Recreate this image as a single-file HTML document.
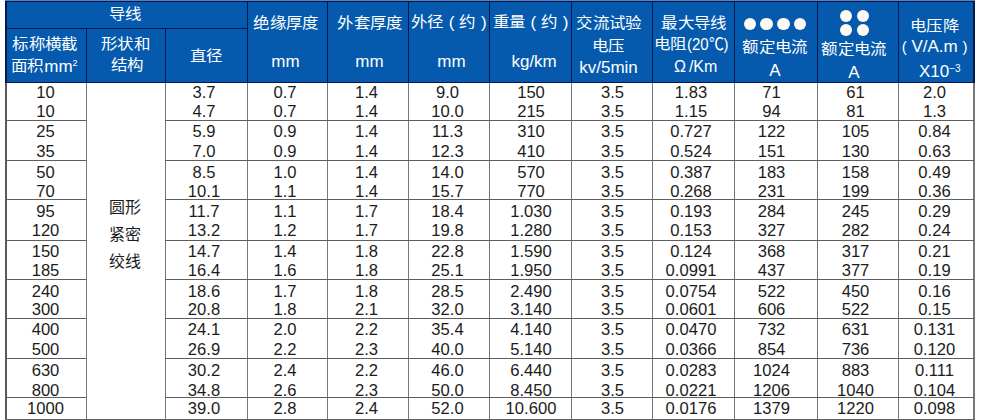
<!DOCTYPE html><html lang="zh-CN"><head><meta charset="utf-8"><style>
html,body{margin:0;padding:0;width:983px;height:420px;overflow:hidden;background:#fff;}
body{position:relative;font-family:"Liberation Sans",sans-serif;}
.a{position:absolute;}
.h{position:absolute;color:#fff;font-size:17px;line-height:20px;height:20px;width:160px;text-align:center;white-space:nowrap;}
.t{position:absolute;color:#1c1c1c;font-size:16.6px;line-height:20px;height:20px;text-align:center;white-space:nowrap;}
.c{display:inline-block;font-weight:400;transform:scale(0.97,0.88);}
.v{position:absolute;width:1px;background:#777;}
.g{position:absolute;height:1px;background:#5e5e5e;}
.nv{position:absolute;width:1px;background:#06184a;}
.dot{position:absolute;width:12.6px;height:12.6px;border-radius:50%;background:#fffaf4;}
</style></head><body>
<div class="a" style="left:5px;top:0;width:970px;height:1px;background:#5583c0"></div>
<div class="a" style="left:5px;top:1px;width:970px;height:82px;background:#055aad"></div>
<div class="a" style="left:5px;top:1px;width:970px;height:1px;background:#06184a"></div>
<div class="a" style="left:5px;top:82px;width:970px;height:1px;background:#06184a"></div>
<div class="a" style="left:6px;top:28px;width:241px;height:1px;background:#06184a"></div>
<div class="a" style="left:5px;top:1px;width:2px;height:82px;background:#06184a"></div>
<div class="a" style="left:973px;top:1px;width:2px;height:82px;background:#06184a"></div>
<div class="nv" style="left:86px;top:29px;height:53px"></div>
<div class="nv" style="left:165px;top:29px;height:53px"></div>
<div class="nv" style="left:247px;top:1px;height:81px"></div>
<div class="nv" style="left:327px;top:1px;height:81px"></div>
<div class="nv" style="left:408px;top:1px;height:81px"></div>
<div class="nv" style="left:489px;top:1px;height:81px"></div>
<div class="nv" style="left:571px;top:1px;height:81px"></div>
<div class="nv" style="left:652px;top:1px;height:81px"></div>
<div class="nv" style="left:734px;top:1px;height:81px"></div>
<div class="nv" style="left:817px;top:1px;height:81px"></div>
<div class="nv" style="left:898px;top:1px;height:81px"></div>
<div class="a" style="left:5px;top:83px;width:2px;height:337px;background:#5a5a5a"></div>
<div class="a" style="left:973px;top:83px;width:2px;height:337px;background:#787878"></div>
<div class="a" style="left:5px;top:419px;width:970px;height:1px;background:#606060"></div>
<div class="v" style="left:86px;top:83px;height:336px"></div>
<div class="v" style="left:165px;top:83px;height:336px"></div>
<div class="v" style="left:247px;top:83px;height:336px"></div>
<div class="v" style="left:327px;top:83px;height:336px"></div>
<div class="v" style="left:408px;top:83px;height:336px"></div>
<div class="v" style="left:489px;top:83px;height:336px"></div>
<div class="v" style="left:571px;top:83px;height:336px"></div>
<div class="v" style="left:652px;top:83px;height:336px"></div>
<div class="v" style="left:734px;top:83px;height:336px"></div>
<div class="v" style="left:817px;top:83px;height:336px"></div>
<div class="v" style="left:898px;top:83px;height:336px"></div>
<div class="g" style="left:6px;top:120px;width:80px"></div>
<div class="g" style="left:165px;top:120px;width:809px"></div>
<div class="g" style="left:6px;top:160px;width:80px"></div>
<div class="g" style="left:165px;top:160px;width:809px"></div>
<div class="g" style="left:6px;top:199px;width:80px"></div>
<div class="g" style="left:165px;top:199px;width:809px"></div>
<div class="g" style="left:6px;top:240px;width:80px"></div>
<div class="g" style="left:165px;top:240px;width:809px"></div>
<div class="g" style="left:6px;top:279px;width:80px"></div>
<div class="g" style="left:165px;top:279px;width:809px"></div>
<div class="g" style="left:6px;top:318px;width:80px"></div>
<div class="g" style="left:165px;top:318px;width:809px"></div>
<div class="g" style="left:6px;top:358px;width:80px"></div>
<div class="g" style="left:165px;top:358px;width:809px"></div>
<div class="g" style="left:6px;top:397px;width:80px"></div>
<div class="g" style="left:165px;top:397px;width:809px"></div>
<div class="h" id="h0" style="left:44.90px;top:5.40px"><span class="c">导线</span></div>
<div class="h" id="h1" style="left:-34.70px;top:35.10px"><span class="c">标称横截</span></div>
<div class="h" id="h2" style="left:-36.10px;top:56.80px"><span class="c">面积</span>mm<span style="font-size:9px;position:relative;top:-6px">2</span></div>
<div class="h" id="h3" style="left:45.95px;top:35.10px"><span class="c">形状和</span></div>
<div class="h" id="h4" style="left:46.60px;top:56.40px"><span class="c">结构</span></div>
<div class="h" id="h5" style="left:125.95px;top:46.80px"><span class="c">直径</span></div>
<div class="h" id="h6" style="left:205.75px;top:14.00px"><span class="c">绝缘厚度</span></div>
<div class="h" id="h7" style="left:205.45px;top:52.20px">mm</div>
<div class="h" id="h8" style="left:289.65px;top:13.80px"><span class="c">外套厚度</span></div>
<div class="h" id="h9" style="left:289.45px;top:52.00px">mm</div>
<div class="h" id="h10" style="left:368.30px;top:12.80px"><span class="c">外径</span> ( <span class="c">约</span> )</div>
<div class="h" id="h11" style="left:371.50px;top:52.00px">mm</div>
<div class="h" id="h12" style="left:450.15px;top:13.05px"><span class="c">重量</span> ( <span class="c">约</span> )</div>
<div class="h" id="h13" style="left:454.10px;top:52.35px">kg/km</div>
<div class="h" id="h14" style="left:529.45px;top:14.00px"><span class="c">交流试验</span></div>
<div class="h" id="h15" style="left:528.20px;top:37.00px"><span class="c">电压</span></div>
<div class="h" id="h16" style="left:528.55px;top:58.40px">kv/5min</div>
<div class="h" id="h17" style="left:614.00px;top:14.00px"><span class="c">最大导线</span></div>
<div class="h" id="h18" style="left:610.70px;top:35.40px"><span class="c">电阻</span><span style="display:inline-block;transform:scaleX(0.88);transform-origin:0 50%;margin-right:-6px">(20℃)</span></div>
<div class="h" id="h19" style="left:615.65px;top:57.40px"><span style="font-size:16px"><span style="margin-right:3px">Ω</span>/Km</span></div>
<div class="h" id="h20" style="left:694.85px;top:38.40px"><span class="c">额定电流</span></div>
<div class="h" id="h21" style="left:694.80px;top:60.80px">A</div>
<div class="h" id="h22" style="left:773.55px;top:40.00px"><span class="c">额定电流</span></div>
<div class="h" id="h23" style="left:773.95px;top:62.90px">A</div>
<div class="h" id="h24" style="left:854.55px;top:16.90px"><span class="c">电压降</span></div>
<div class="h" id="h25" style="left:854.55px;top:37.00px"><span style="font-size:15px">(</span> V/A.m <span style="font-size:15px">)</span></div>
<div class="h" id="h26" style="left:859.80px;top:61.60px">X10<span style="font-size:10px;position:relative;top:-5px">−3</span></div>
<div class="dot" style="left:743.6px;top:17.6px"></div>
<div class="dot" style="left:760.3px;top:17.6px"></div>
<div class="dot" style="left:777.0px;top:17.6px"></div>
<div class="dot" style="left:793.7px;top:17.6px"></div>
<div class="dot" style="left:839.7px;top:9.8px"></div>
<div class="dot" style="left:839.7px;top:23.7px"></div>
<div class="dot" style="left:856.5px;top:9.8px"></div>
<div class="dot" style="left:856.5px;top:23.7px"></div>
<div class="a" style="left:85px;width:79px;top:194px;color:#1c1c1c;font-size:16px;line-height:27px;text-align:center">圆形<br>紧密<br>绞线</div>
<div class="t" style="left:5px;width:81px;top:83.38px">10</div>
<div class="t" style="left:163px;width:82px;top:83.38px">3.7</div>
<div class="t" style="left:245px;width:80px;top:83.38px">0.7</div>
<div class="t" style="left:326px;width:81px;top:83.38px">1.4</div>
<div class="t" style="left:407px;width:81px;top:83.38px">9.0</div>
<div class="t" style="left:490px;width:82px;top:83.38px">150</div>
<div class="t" style="left:572px;width:81px;top:83.38px">3.5</div>
<div class="t" style="left:650px;width:82px;top:83.38px">1.83</div>
<div class="t" style="left:730px;width:83px;top:83.38px">71</div>
<div class="t" style="left:815px;width:81px;top:83.38px">61</div>
<div class="t" style="left:897px;width:75px;top:83.38px">2.0</div>
<div class="t" style="left:5px;width:81px;top:101.98px">10</div>
<div class="t" style="left:163px;width:82px;top:101.98px">4.7</div>
<div class="t" style="left:245px;width:80px;top:101.98px">0.7</div>
<div class="t" style="left:326px;width:81px;top:101.98px">1.4</div>
<div class="t" style="left:407px;width:81px;top:101.98px">10.0</div>
<div class="t" style="left:490px;width:82px;top:101.98px">215</div>
<div class="t" style="left:572px;width:81px;top:101.98px">3.5</div>
<div class="t" style="left:650px;width:82px;top:101.98px">1.15</div>
<div class="t" style="left:730px;width:83px;top:101.98px">94</div>
<div class="t" style="left:815px;width:81px;top:101.98px">81</div>
<div class="t" style="left:897px;width:75px;top:101.98px">1.3</div>
<div class="t" style="left:5px;width:81px;top:122.08px">25</div>
<div class="t" style="left:163px;width:82px;top:122.08px">5.9</div>
<div class="t" style="left:245px;width:80px;top:122.08px">0.9</div>
<div class="t" style="left:326px;width:81px;top:122.08px">1.4</div>
<div class="t" style="left:407px;width:81px;top:122.08px">11.3</div>
<div class="t" style="left:490px;width:82px;top:122.08px">310</div>
<div class="t" style="left:572px;width:81px;top:122.08px">3.5</div>
<div class="t" style="left:650px;width:82px;top:122.08px">0.727</div>
<div class="t" style="left:730px;width:83px;top:122.08px">122</div>
<div class="t" style="left:815px;width:81px;top:122.08px">105</div>
<div class="t" style="left:897px;width:75px;top:122.08px">0.84</div>
<div class="t" style="left:5px;width:81px;top:142.38px">35</div>
<div class="t" style="left:163px;width:82px;top:142.38px">7.0</div>
<div class="t" style="left:245px;width:80px;top:142.38px">0.9</div>
<div class="t" style="left:326px;width:81px;top:142.38px">1.4</div>
<div class="t" style="left:407px;width:81px;top:142.38px">12.3</div>
<div class="t" style="left:490px;width:82px;top:142.38px">410</div>
<div class="t" style="left:572px;width:81px;top:142.38px">3.5</div>
<div class="t" style="left:650px;width:82px;top:142.38px">0.524</div>
<div class="t" style="left:730px;width:83px;top:142.38px">151</div>
<div class="t" style="left:815px;width:81px;top:142.38px">130</div>
<div class="t" style="left:897px;width:75px;top:142.38px">0.63</div>
<div class="t" style="left:5px;width:81px;top:162.68px">50</div>
<div class="t" style="left:163px;width:82px;top:162.68px">8.5</div>
<div class="t" style="left:245px;width:80px;top:162.68px">1.0</div>
<div class="t" style="left:326px;width:81px;top:162.68px">1.4</div>
<div class="t" style="left:407px;width:81px;top:162.68px">14.0</div>
<div class="t" style="left:490px;width:82px;top:162.68px">570</div>
<div class="t" style="left:572px;width:81px;top:162.68px">3.5</div>
<div class="t" style="left:650px;width:82px;top:162.68px">0.387</div>
<div class="t" style="left:730px;width:83px;top:162.68px">183</div>
<div class="t" style="left:815px;width:81px;top:162.68px">158</div>
<div class="t" style="left:897px;width:75px;top:162.68px">0.49</div>
<div class="t" style="left:5px;width:81px;top:182.48px">70</div>
<div class="t" style="left:163px;width:82px;top:182.48px">10.1</div>
<div class="t" style="left:245px;width:80px;top:182.48px">1.1</div>
<div class="t" style="left:326px;width:81px;top:182.48px">1.4</div>
<div class="t" style="left:407px;width:81px;top:182.48px">15.7</div>
<div class="t" style="left:490px;width:82px;top:182.48px">770</div>
<div class="t" style="left:572px;width:81px;top:182.48px">3.5</div>
<div class="t" style="left:650px;width:82px;top:182.48px">0.268</div>
<div class="t" style="left:730px;width:83px;top:182.48px">231</div>
<div class="t" style="left:815px;width:81px;top:182.48px">199</div>
<div class="t" style="left:897px;width:75px;top:182.48px">0.36</div>
<div class="t" style="left:5px;width:81px;top:201.58px">95</div>
<div class="t" style="left:163px;width:82px;top:201.58px">11.7</div>
<div class="t" style="left:245px;width:80px;top:201.58px">1.1</div>
<div class="t" style="left:326px;width:81px;top:201.58px">1.7</div>
<div class="t" style="left:407px;width:81px;top:201.58px">18.4</div>
<div class="t" style="left:490px;width:82px;top:201.58px">1.030</div>
<div class="t" style="left:572px;width:81px;top:201.58px">3.5</div>
<div class="t" style="left:650px;width:82px;top:201.58px">0.193</div>
<div class="t" style="left:730px;width:83px;top:201.58px">284</div>
<div class="t" style="left:815px;width:81px;top:201.58px">245</div>
<div class="t" style="left:897px;width:75px;top:201.58px">0.29</div>
<div class="t" style="left:5px;width:81px;top:221.28px">120</div>
<div class="t" style="left:163px;width:82px;top:221.28px">13.2</div>
<div class="t" style="left:245px;width:80px;top:221.28px">1.2</div>
<div class="t" style="left:326px;width:81px;top:221.28px">1.7</div>
<div class="t" style="left:407px;width:81px;top:221.28px">19.8</div>
<div class="t" style="left:490px;width:82px;top:221.28px">1.280</div>
<div class="t" style="left:572px;width:81px;top:221.28px">3.5</div>
<div class="t" style="left:650px;width:82px;top:221.28px">0.153</div>
<div class="t" style="left:730px;width:83px;top:221.28px">327</div>
<div class="t" style="left:815px;width:81px;top:221.28px">282</div>
<div class="t" style="left:897px;width:75px;top:221.28px">0.24</div>
<div class="t" style="left:5px;width:81px;top:241.58px">150</div>
<div class="t" style="left:163px;width:82px;top:241.58px">14.7</div>
<div class="t" style="left:245px;width:80px;top:241.58px">1.4</div>
<div class="t" style="left:326px;width:81px;top:241.58px">1.8</div>
<div class="t" style="left:407px;width:81px;top:241.58px">22.8</div>
<div class="t" style="left:490px;width:82px;top:241.58px">1.590</div>
<div class="t" style="left:572px;width:81px;top:241.58px">3.5</div>
<div class="t" style="left:650px;width:82px;top:241.58px">0.124</div>
<div class="t" style="left:730px;width:83px;top:241.58px">368</div>
<div class="t" style="left:815px;width:81px;top:241.58px">317</div>
<div class="t" style="left:897px;width:75px;top:241.58px">0.21</div>
<div class="t" style="left:5px;width:81px;top:261.28px">185</div>
<div class="t" style="left:163px;width:82px;top:261.28px">16.4</div>
<div class="t" style="left:245px;width:80px;top:261.28px">1.6</div>
<div class="t" style="left:326px;width:81px;top:261.28px">1.8</div>
<div class="t" style="left:407px;width:81px;top:261.28px">25.1</div>
<div class="t" style="left:490px;width:82px;top:261.28px">1.950</div>
<div class="t" style="left:572px;width:81px;top:261.28px">3.5</div>
<div class="t" style="left:650px;width:82px;top:261.28px">0.0991</div>
<div class="t" style="left:730px;width:83px;top:261.28px">437</div>
<div class="t" style="left:815px;width:81px;top:261.28px">377</div>
<div class="t" style="left:897px;width:75px;top:261.28px">0.19</div>
<div class="t" style="left:5px;width:81px;top:282.08px">240</div>
<div class="t" style="left:163px;width:82px;top:282.08px">18.6</div>
<div class="t" style="left:245px;width:80px;top:282.08px">1.7</div>
<div class="t" style="left:326px;width:81px;top:282.08px">1.8</div>
<div class="t" style="left:407px;width:81px;top:282.08px">28.5</div>
<div class="t" style="left:490px;width:82px;top:282.08px">2.490</div>
<div class="t" style="left:572px;width:81px;top:282.08px">3.5</div>
<div class="t" style="left:650px;width:82px;top:282.08px">0.0754</div>
<div class="t" style="left:730px;width:83px;top:282.08px">522</div>
<div class="t" style="left:815px;width:81px;top:282.08px">450</div>
<div class="t" style="left:897px;width:75px;top:282.08px">0.16</div>
<div class="t" style="left:5px;width:81px;top:300.28px">300</div>
<div class="t" style="left:163px;width:82px;top:300.28px">20.8</div>
<div class="t" style="left:245px;width:80px;top:300.28px">1.8</div>
<div class="t" style="left:326px;width:81px;top:300.28px">2.1</div>
<div class="t" style="left:407px;width:81px;top:300.28px">32.0</div>
<div class="t" style="left:490px;width:82px;top:300.28px">3.140</div>
<div class="t" style="left:572px;width:81px;top:300.28px">3.5</div>
<div class="t" style="left:650px;width:82px;top:300.28px">0.0601</div>
<div class="t" style="left:730px;width:83px;top:300.28px">606</div>
<div class="t" style="left:815px;width:81px;top:300.28px">522</div>
<div class="t" style="left:897px;width:75px;top:300.28px">0.15</div>
<div class="t" style="left:5px;width:81px;top:320.18px">400</div>
<div class="t" style="left:163px;width:82px;top:320.18px">24.1</div>
<div class="t" style="left:245px;width:80px;top:320.18px">2.0</div>
<div class="t" style="left:326px;width:81px;top:320.18px">2.2</div>
<div class="t" style="left:407px;width:81px;top:320.18px">35.4</div>
<div class="t" style="left:490px;width:82px;top:320.18px">4.140</div>
<div class="t" style="left:572px;width:81px;top:320.18px">3.5</div>
<div class="t" style="left:650px;width:82px;top:320.18px">0.0470</div>
<div class="t" style="left:730px;width:83px;top:320.18px">732</div>
<div class="t" style="left:815px;width:81px;top:320.18px">631</div>
<div class="t" style="left:897px;width:75px;top:320.18px">0.131</div>
<div class="t" style="left:5px;width:81px;top:340.28px">500</div>
<div class="t" style="left:163px;width:82px;top:340.28px">26.9</div>
<div class="t" style="left:245px;width:80px;top:340.28px">2.2</div>
<div class="t" style="left:326px;width:81px;top:340.28px">2.3</div>
<div class="t" style="left:407px;width:81px;top:340.28px">40.0</div>
<div class="t" style="left:490px;width:82px;top:340.28px">5.140</div>
<div class="t" style="left:572px;width:81px;top:340.28px">3.5</div>
<div class="t" style="left:650px;width:82px;top:340.28px">0.0366</div>
<div class="t" style="left:730px;width:83px;top:340.28px">854</div>
<div class="t" style="left:815px;width:81px;top:340.28px">736</div>
<div class="t" style="left:897px;width:75px;top:340.28px">0.120</div>
<div class="t" style="left:5px;width:81px;top:360.58px">630</div>
<div class="t" style="left:163px;width:82px;top:360.58px">30.2</div>
<div class="t" style="left:245px;width:80px;top:360.58px">2.4</div>
<div class="t" style="left:326px;width:81px;top:360.58px">2.2</div>
<div class="t" style="left:407px;width:81px;top:360.58px">46.0</div>
<div class="t" style="left:490px;width:82px;top:360.58px">6.440</div>
<div class="t" style="left:572px;width:81px;top:360.58px">3.5</div>
<div class="t" style="left:650px;width:82px;top:360.58px">0.0283</div>
<div class="t" style="left:730px;width:83px;top:360.58px">1024</div>
<div class="t" style="left:815px;width:81px;top:360.58px">883</div>
<div class="t" style="left:897px;width:75px;top:360.58px">0.111</div>
<div class="t" style="left:5px;width:81px;top:380.68px">800</div>
<div class="t" style="left:163px;width:82px;top:380.68px">34.8</div>
<div class="t" style="left:245px;width:80px;top:380.68px">2.6</div>
<div class="t" style="left:326px;width:81px;top:380.68px">2.3</div>
<div class="t" style="left:407px;width:81px;top:380.68px">50.0</div>
<div class="t" style="left:490px;width:82px;top:380.68px">8.450</div>
<div class="t" style="left:572px;width:81px;top:380.68px">3.5</div>
<div class="t" style="left:650px;width:82px;top:380.68px">0.0221</div>
<div class="t" style="left:730px;width:83px;top:380.68px">1206</div>
<div class="t" style="left:815px;width:81px;top:380.68px">1040</div>
<div class="t" style="left:897px;width:75px;top:380.68px">0.104</div>
<div class="t" style="left:5px;width:81px;top:399.28px">1000</div>
<div class="t" style="left:163px;width:82px;top:399.28px">39.0</div>
<div class="t" style="left:245px;width:80px;top:399.28px">2.8</div>
<div class="t" style="left:326px;width:81px;top:399.28px">2.4</div>
<div class="t" style="left:407px;width:81px;top:399.28px">52.0</div>
<div class="t" style="left:490px;width:82px;top:399.28px">10.600</div>
<div class="t" style="left:572px;width:81px;top:399.28px">3.5</div>
<div class="t" style="left:650px;width:82px;top:399.28px">0.0176</div>
<div class="t" style="left:730px;width:83px;top:399.28px">1379</div>
<div class="t" style="left:815px;width:81px;top:399.28px">1220</div>
<div class="t" style="left:897px;width:75px;top:399.28px">0.098</div>
</body></html>
